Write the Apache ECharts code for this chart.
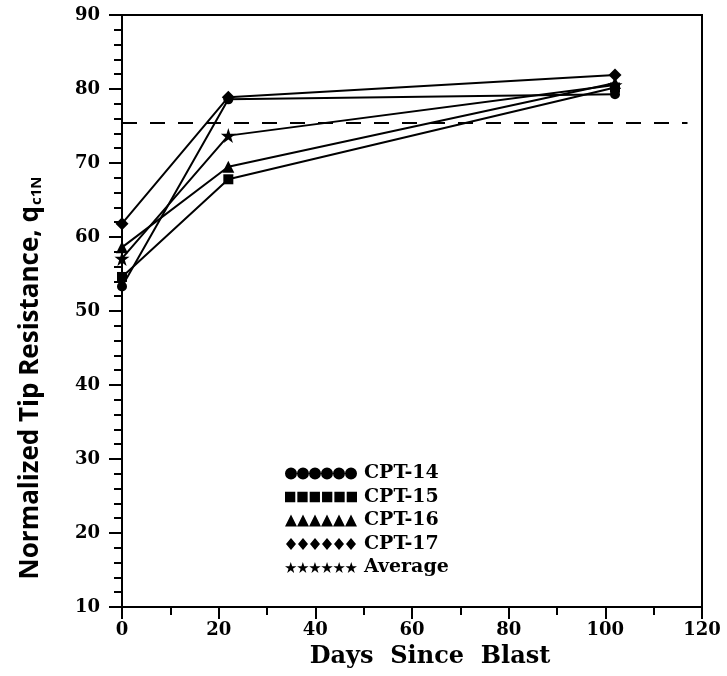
<!DOCTYPE html>
<html>
<head>
<meta charset="utf-8">
<script src="https://cdn.jsdelivr.net/npm/echarts@6/dist/echarts.min.js"></script>
<style>html,body{margin:0;padding:0;background:#fff}#c{width:727px;height:676px}</style>
</head>
<body>
<div id="c"></div>
<script>
// ---- data ----
var days = [0, 22, 102];
var cpt14 = [53.3, 78.6, 79.3];
var cpt15 = [54.6, 67.8, 80.2];
var cpt16 = [58.6, 69.5, 80.8];
var cpt17 = [61.8, 78.9, 81.9];
var average = [57.1, 73.7, 80.55];
var refLineX = [0, 117];
var refLineY = [75.4, 75.4];
var seriesNames = ['CPT-14', 'CPT-15', 'CPT-16', 'CPT-17', 'Average'];
var xTicks = [0, 20, 40, 60, 80, 100, 120];
var yTicks = [10, 20, 30, 40, 50, 60, 70, 80, 90];

// ---- styling helpers ----
var starPath = 'path://M50,0 L61.2,34.5 L97.6,34.5 L68.2,55.9 L79.4,90.5 L50,69.1 L20.6,90.5 L31.8,55.9 L2.4,34.5 L38.8,34.5 Z';
function rowIcon(shape) {
  var d = '';
  for (var i = 0; i < 6; i++) {
    var x = i * 12;
    if (shape === 'circle') d += 'M' + x + ' 6 A6 6 0 1 0 ' + (x + 12) + ' 6 A6 6 0 1 0 ' + x + ' 6 Z ';
    else if (shape === 'rect') d += 'M' + (x + 1) + ' 1 L' + (x + 11) + ' 1 L' + (x + 11) + ' 11 L' + (x + 1) + ' 11 Z ';
    else if (shape === 'triangle') d += 'M' + (x + 6) + ' 0 L' + (x + 12) + ' 12 L' + x + ' 12 Z ';
    else if (shape === 'diamond') d += 'M' + (x + 6) + ' 0 L' + (x + 11) + ' 6 L' + (x + 6) + ' 12 L' + (x + 1) + ' 6 Z ';
    else d += 'M' + (x + 6) + ' 0 L' + (x + 7.4) + ' 4.2 L' + (x + 11.7) + ' 4.2 L' + (x + 8.2) + ' 6.7 L' + (x + 9.5) + ' 10.9 L' + (x + 6) + ' 8.3 L' + (x + 2.5) + ' 10.9 L' + (x + 3.8) + ' 6.7 L' + (x + 0.3) + ' 4.2 L' + (x + 4.6) + ' 4.2 Z ';
  }
  return 'path://' + d;
}
function pairs(xs, ys) { return xs.map(function (x, i) { return [x, ys[i]]; }); }

var shapes = ['circle', 'rect', 'triangle', 'diamond', starPath];
var iconShapes = ['circle', 'rect', 'triangle', 'diamond', 'star'];
var sizes = [10, 10, 12, 13, 15];
var values = [cpt14, cpt15, cpt16, cpt17, average];

var serif = 'DejaVu Serif';
var series = values.map(function (v, i) {
  return {
    name: seriesNames[i], type: 'line', data: pairs(days, v),
    symbol: shapes[i], symbolSize: sizes[i], showAllSymbol: true,
    lineStyle: { color: '#000', width: 2 },
    itemStyle: { color: '#000' },
    z: 3
  };
});
series.push({
  name: 'ref', type: 'line', data: pairs(refLineX, refLineY), symbol: 'none',
  lineStyle: { color: '#000', width: 2, type: [15, 13] }, z: 2
});

var chart = echarts.init(document.getElementById('c'), null, { renderer: 'canvas' });
chart.setOption({
  animation: false,
  backgroundColor: '#fff',
  grid: { left: 122, right: 25, top: 15, bottom: 69, show: true, borderColor: '#000', borderWidth: 2, backgroundColor: 'transparent' },
  legend: {
    orient: 'vertical', left: 280, top: 459, itemWidth: 72, itemHeight: 12, itemGap: 4.5,
    selectedMode: false,
    data: seriesNames.map(function (n, i) { return { name: n, icon: rowIcon(iconShapes[i]) }; }),
    textStyle: { fontFamily: serif, fontWeight: 'bold', fontSize: 19, color: '#000', padding: [0, 0, 0, 2] }
  },
  xAxis: {
    type: 'value', min: xTicks[0], max: xTicks[xTicks.length - 1], interval: 20,
    axisLine: { lineStyle: { color: '#000', width: 2 } },
    axisTick: { show: true, length: 12, lineStyle: { color: '#000', width: 2 } },
    minorTick: { show: true, splitNumber: 2, length: 8, lineStyle: { color: '#000', width: 2 } },
    splitLine: { show: false },
    axisLabel: { margin: 14, fontFamily: serif, fontWeight: 'bold', fontSize: 18, color: '#000' },
    name: 'Days  Since  Blast', nameLocation: 'middle', nameGap: 38,
    nameTextStyle: { fontFamily: serif, fontWeight: 'bold', fontSize: 24, color: '#000', padding: [0, 0, 0, 36] }
  },
  yAxis: {
    type: 'value', min: yTicks[0], max: yTicks[yTicks.length - 1], interval: 10,
    axisLine: { lineStyle: { color: '#000', width: 2 } },
    axisTick: { show: true, length: 13, lineStyle: { color: '#000', width: 2 } },
    minorTick: { show: true, splitNumber: 5, length: 8, lineStyle: { color: '#000', width: 2 } },
    splitLine: { show: false },
    axisLabel: { margin: 22, fontFamily: serif, fontWeight: 'bold', fontSize: 18, color: '#000' },
    name: '{m|Normalized Tip Resistance, q}{s|c1N}', nameLocation: 'middle', nameGap: 78, nameRotate: 90,
    nameTextStyle: {
      padding: [0, 134, 0, 0],
      rich: {
        m: { fontFamily: 'Open Sans', fontWeight: 'bold', fontSize: 26, color: '#000' },
        s: { fontFamily: 'Open Sans', fontWeight: 'bold', fontSize: 15, color: '#000', verticalAlign: 'bottom', padding: [11, 0, 0, 1] }
      }
    }
  },
  series: series
});
</script>
</body>
</html>
